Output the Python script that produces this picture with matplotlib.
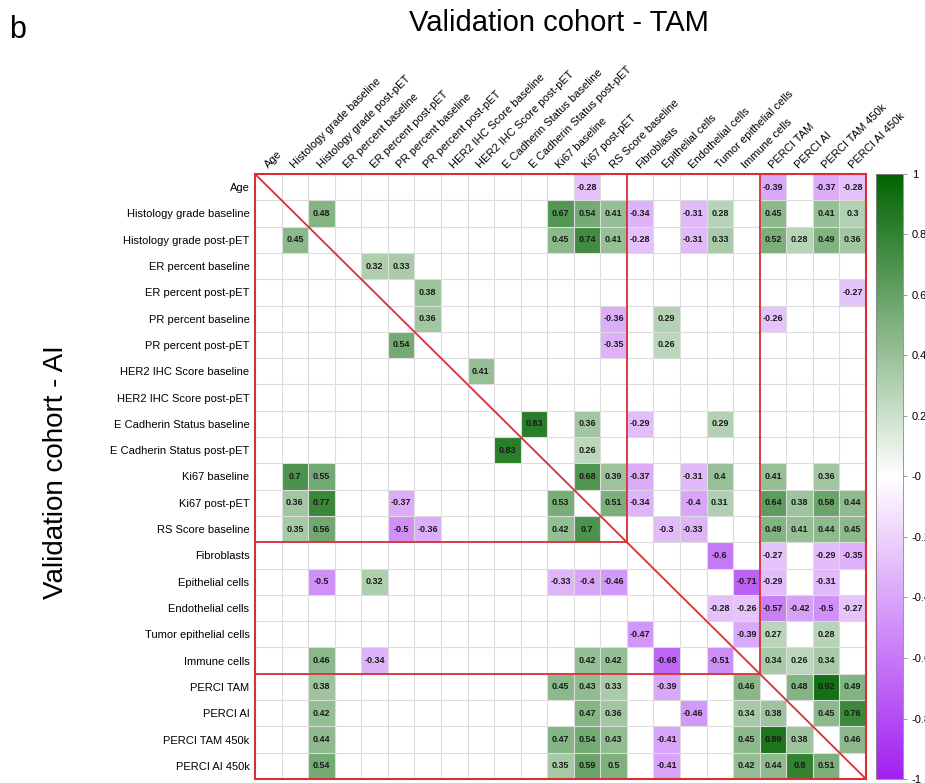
import numpy as np
import matplotlib
matplotlib.use("Agg")
import matplotlib.pyplot as plt
from matplotlib.colors import LinearSegmentedColormap

plt.rcParams['font.family'] = ['Liberation Sans', 'DejaVu Sans']

labels = ["Age", "Histology grade baseline", "Histology grade post-pET",
          "ER percent baseline", "ER percent post-pET", "PR percent baseline",
          "PR percent post-pET", "HER2 IHC Score baseline", "HER2 IHC Score post-pET",
          "E Cadherin Status baseline", "E Cadherin Status post-pET", "Ki67 baseline",
          "Ki67 post-pET", "RS Score baseline", "Fibroblasts", "Epithelial cells",
          "Endothelial cells", "Tumor epithelial cells", "Immune cells", "PERCI TAM",
          "PERCI AI", "PERCI TAM 450k", "PERCI AI 450k"]

# significant correlations per row: {column index: value}
row_values = [
    {12: -0.28, 19: -0.39, 21: -0.37, 22: -0.28},
    {2: 0.48, 11: 0.67, 12: 0.54, 13: 0.41, 14: -0.34, 16: -0.31, 17: 0.28, 19: 0.45, 21: 0.41, 22: 0.3},
    {1: 0.45, 11: 0.45, 12: 0.74, 13: 0.41, 14: -0.28, 16: -0.31, 17: 0.33, 19: 0.52, 20: 0.28, 21: 0.49, 22: 0.36},
    {4: 0.32, 5: 0.33},
    {6: 0.38, 22: -0.27},
    {6: 0.36, 13: -0.36, 15: 0.29, 19: -0.26},
    {5: 0.54, 13: -0.35, 15: 0.26},
    {8: 0.41},
    {},
    {10: 0.83, 12: 0.36, 14: -0.29, 17: 0.29},
    {9: 0.83, 12: 0.26},
    {1: 0.7, 2: 0.55, 12: 0.68, 13: 0.39, 14: -0.37, 16: -0.31, 17: 0.4, 19: 0.41, 21: 0.36},
    {1: 0.36, 2: 0.77, 5: -0.37, 11: 0.53, 13: 0.51, 14: -0.34, 16: -0.4, 17: 0.31, 19: 0.64, 20: 0.38, 21: 0.58, 22: 0.44},
    {1: 0.35, 2: 0.56, 5: -0.5, 6: -0.36, 11: 0.42, 12: 0.7, 15: -0.3, 16: -0.33, 19: 0.49, 20: 0.41, 21: 0.44, 22: 0.45},
    {17: -0.6, 19: -0.27, 21: -0.29, 22: -0.35},
    {2: -0.5, 4: 0.32, 11: -0.33, 12: -0.4, 13: -0.46, 18: -0.71, 19: -0.29, 21: -0.31},
    {17: -0.28, 18: -0.26, 19: -0.57, 20: -0.42, 21: -0.5, 22: -0.27},
    {14: -0.47, 18: -0.39, 19: 0.27, 21: 0.28},
    {2: 0.46, 4: -0.34, 12: 0.42, 13: 0.42, 15: -0.68, 17: -0.51, 19: 0.34, 20: 0.26, 21: 0.34},
    {2: 0.38, 11: 0.45, 12: 0.43, 13: 0.33, 15: -0.39, 18: 0.46, 20: 0.48, 21: 0.92, 22: 0.49},
    {2: 0.42, 12: 0.47, 13: 0.36, 16: -0.46, 18: 0.34, 19: 0.38, 21: 0.45, 22: 0.76},
    {2: 0.44, 11: 0.47, 12: 0.54, 13: 0.43, 15: -0.41, 18: 0.45, 19: 0.89, 20: 0.38, 22: 0.46},
    {2: 0.54, 11: 0.35, 12: 0.59, 13: 0.5, 15: -0.41, 18: 0.42, 19: 0.44, 20: 0.8, 21: 0.51},
]

# cluster block boundaries (in cells)
block_edges = [14, 19]

n = len(labels)
mat = np.full((n, n), np.nan)
for r, d in enumerate(row_values):
    for c, v in d.items():
        mat[r, c] = v

cmap = LinearSegmentedColormap.from_list("pwg", ["#A020F0", "#FFFFFF", "#006400"])

fig = plt.figure(figsize=(9.25, 7.83), dpi=100)
ax = fig.add_axes([0.2757, 0.0051, 0.6605, 0.7727])
m = np.ma.masked_invalid(mat)
im = ax.pcolormesh(np.arange(n + 1), np.arange(n + 1), m, cmap=cmap, vmin=-1, vmax=1)
ax.set_xlim(0, n)
ax.set_ylim(n, 0)

for k in range(1, n):
    ax.axhline(k, color="#dcdcdc", lw=0.8, zorder=2)
    ax.axvline(k, color="#dcdcdc", lw=0.8, zorder=2)

for r in range(n):
    for c in range(n):
        v = mat[r, c]
        if not np.isnan(v):
            ax.text(c + 0.5, r + 0.5, f"{v:g}", ha="center", va="center",
                    fontsize=6.5, fontweight="bold", color="#1a1a1a", zorder=3)

red = "#d62f36"
ax.plot([0, n], [0, n], color=red, lw=1.3, zorder=4)
for e in block_edges:
    ax.plot([0, e], [e, e], color=red, lw=1.3, zorder=4)
    ax.plot([e, e], [0, e], color=red, lw=1.3, zorder=4)
for s in ax.spines.values():
    s.set_color(red)
    s.set_linewidth(1.5)

ax.set_yticks(np.arange(n) + 0.5)
ax.set_yticklabels(labels, fontsize=8)
ax.set_xticks([])
ax.tick_params(axis="y", length=0, pad=4)
for c in range(n):
    ax.text(c + 0.55, -0.15, labels[c], rotation=45, rotation_mode="anchor",
            ha="left", va="bottom", fontsize=8, transform=ax.transData, clip_on=False)

cax = fig.add_axes([0.947, 0.0051, 0.029, 0.7727])
cb = fig.colorbar(im, cax=cax)
ticks = np.round(np.arange(-1, 1.01, 0.2), 1)
cb.set_ticks(ticks)
cb.set_ticklabels([f"{t:g}" for t in ticks])
cb.outline.set_edgecolor("#888888")
cb.outline.set_linewidth(0.6)
cax.tick_params(labelsize=8, length=3, width=0.6, color="#888888")

fig.text(0.604, 0.971, "Validation cohort - TAM", ha="center", va="center", fontsize=21)
fig.text(0.010, 0.962, "b", ha="left", va="center", fontsize=22)
fig.text(0.061, 0.397, "Validation cohort - AI", ha="center", va="center", rotation=90, fontsize=20)

fig.savefig("out.png", dpi=100)
